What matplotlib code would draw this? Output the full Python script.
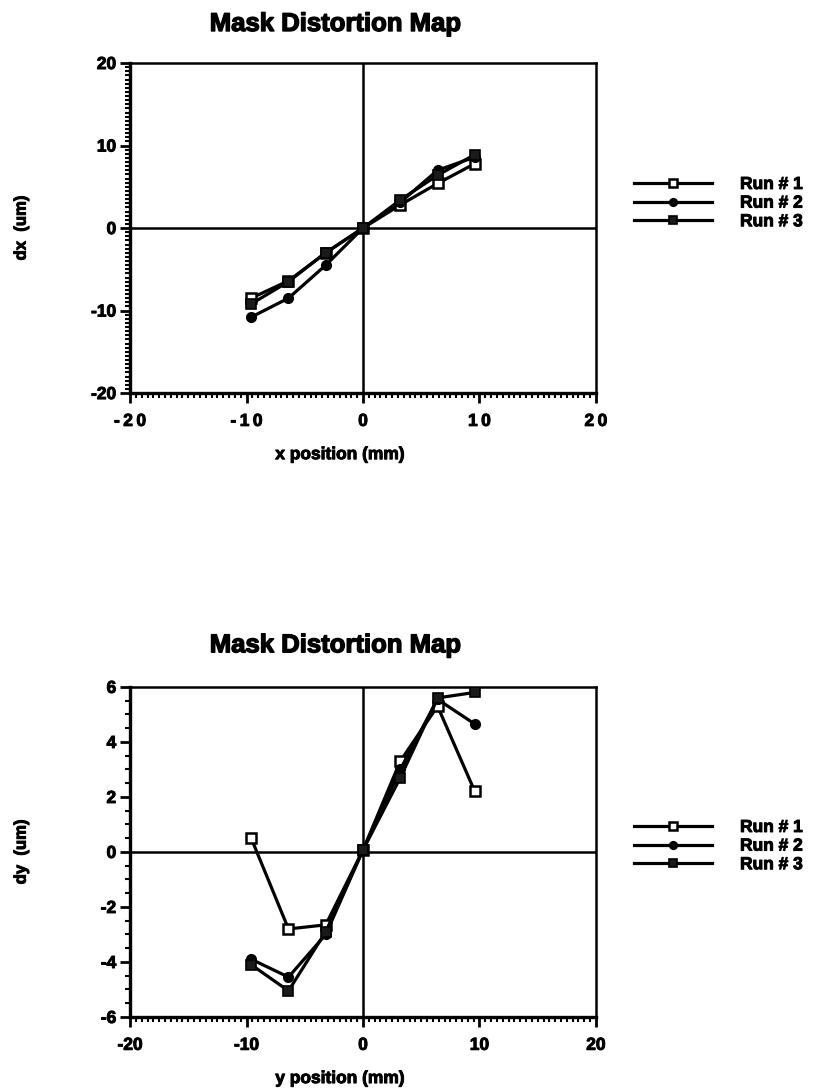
import matplotlib
matplotlib.use("Agg")
import matplotlib.pyplot as plt
import matplotlib.patheffects as pe
from matplotlib.ticker import MultipleLocator, FixedLocator
from matplotlib.lines import Line2D

plt.rcParams['font.family'] = ['Liberation Sans', 'DejaVu Sans']
plt.rcParams['font.weight'] = 'bold'

# Measurement positions (mm)
positions = [-9.6, -6.4, -3.2, 0.0, 3.2, 6.4, 9.6]
run_labels = ["Run # 1", "Run # 2", "Run # 3"]

# x displacement dx (um) per run
dx_run1 = [-8.5, -6.4, -3.0, 0.0, 2.8, 5.4, 7.8]
dx_run2 = [-10.8, -8.5, -4.5, 0.0, 3.1, 7.0, 8.6]
dx_run3 = [-9.2, -6.5, -3.0, 0.0, 3.4, 6.4, 8.9]

# y displacement dy (um) per run
dy_run1 = [0.5, -2.8, -2.65, 0.07, 3.3, 5.3, 2.2]
dy_run2 = [-3.9, -4.55, -3.0, 0.07, 3.0, 5.55, 4.65]
dy_run3 = [-4.1, -5.05, -2.9, 0.07, 2.7, 5.6, 5.8]

x_ticks = [-20, -10, 0, 10, 20]
dx_ticks = [-20, -10, 0, 10, 20]
dy_ticks = [-6, -4, -2, 0, 2, 4, 6]

styles = [
    dict(marker='s', markersize=7, markerfacecolor='white', markeredgecolor='black', markeredgewidth=1.8),
    dict(marker='o', markersize=7, markerfacecolor='black', markeredgecolor='black'),
    dict(marker='s', markersize=7.5, markerfacecolor='#1a1a1a', markeredgecolor='black', markeredgewidth=1.2),
]

heavy = [pe.withStroke(linewidth=0.7, foreground='black')]

fig = plt.figure(figsize=(8.13, 10.90), dpi=100)


def spaced(t, gap):
    s = f"{t:d}"
    return gap.join(s)


def panel(rect, series, yticks, ylim, ylabel, xlabel, title_y, gap, legend_y):
    ax = fig.add_axes(rect)
    for vals, st in zip(series, styles):
        ax.plot(positions, vals, color='black', linewidth=2.3, zorder=3, **st)
    ax.axhline(0, color='black', linewidth=1.8, zorder=2)
    ax.axvline(0, color='black', linewidth=1.8, zorder=2)
    ax.set_xlim(-20, 20)
    ax.set_ylim(*ylim)
    ax.xaxis.set_major_locator(FixedLocator(x_ticks))
    ax.yaxis.set_major_locator(FixedLocator(yticks))
    ax.xaxis.set_minor_locator(MultipleLocator(0.5))
    ax.yaxis.set_minor_locator(MultipleLocator(0.5))
    ax.set_xticklabels([spaced(t, gap) for t in x_ticks], fontsize=12.5, fontweight='bold')
    ax.set_yticklabels([f"{t:d}" for t in yticks], fontsize=12.5, fontweight='bold')
    for lab in ax.get_xticklabels() + ax.get_yticklabels():
        lab.set_path_effects(heavy)
    ax.tick_params(which='major', direction='out', length=7, width=2.0)
    ax.tick_params(axis='x', which='major', pad=8)
    ax.tick_params(axis='y', which='major', pad=3)
    ax.tick_params(which='minor', direction='out', length=3.5, width=1.5)
    ax.tick_params(top=False, right=False)
    for side in ['top', 'right']:
        ax.spines[side].set_linewidth(1.8)
    for side in ['left', 'bottom']:
        ax.spines[side].set_linewidth(2.4)
    zero_frac = rect[1] + rect[3] * (0 - ylim[0]) / (ylim[1] - ylim[0])
    fig.text(0.4185, rect[1] - 0.0565, xlabel, ha='center', va='center',
             fontsize=12.5, fontweight='bold', path_effects=heavy)
    fig.text(0.026, zero_frac, ylabel, rotation=90, ha='center', va='center',
             fontsize=12, fontweight='bold', path_effects=heavy)
    fig.text(0.413, title_y, "Mask Distortion Map", ha='center', va='center',
             fontsize=18.5, fontweight='bold', path_effects=[pe.withStroke(linewidth=1.0, foreground='black')])
    handles = [Line2D([], [], color='black', linewidth=2.3, **st) for st in styles]
    leg = fig.legend(handles, run_labels, loc='center left',
                     bbox_to_anchor=(0.78, legend_y),
                     frameon=False, fontsize=12.5, handlelength=4.5, handletextpad=1.6,
                     labelspacing=0.2, borderpad=0, borderaxespad=0, markerscale=0.8)
    for t in leg.get_texts():
        t.set_fontweight('bold')
        t.set_path_effects(heavy)
    return ax


panel([0.16, 0.6394, 0.573, 0.3028], [dx_run1, dx_run2, dx_run3], dx_ticks, (-20, 20),
      "dx  (um)", "x position (mm)", 0.978, '\u2009', 1 - 203 / 1090)
panel([0.16, 0.067, 0.573, 0.3028], [dy_run1, dy_run2, dy_run3], dy_ticks, (-6, 6),
      "dy  (um)", "y position (mm)", 0.408, '', 1 - 846 / 1090)

fig.savefig("out.png", dpi=100, facecolor='white')
